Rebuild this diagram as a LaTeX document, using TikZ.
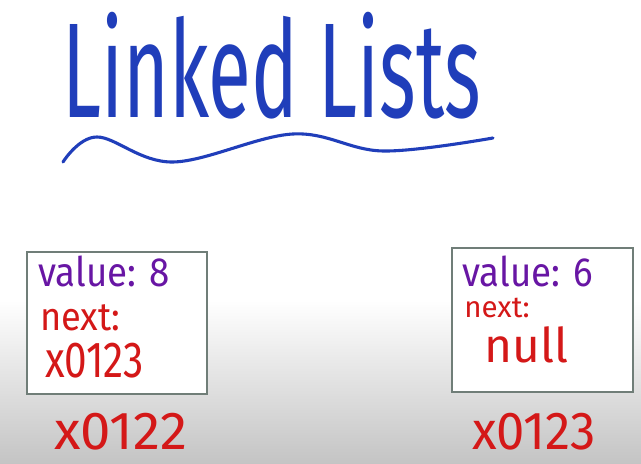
\documentclass[tikz,border=0pt]{standalone}
\usepackage{fontspec}
\setmainfont{Fira Sans}
\usepackage{graphicx}
\usepackage{xcolor}
\usetikzlibrary{positioning,calc}

\definecolor{inkblue}{RGB}{32,62,186}
\definecolor{inkred}{RGB}{212,24,24}
\definecolor{inkpurple}{RGB}{104,22,164}
\definecolor{boxgray}{RGB}{112,126,120}
\definecolor{floorgray}{RGB}{196,196,196}

\begin{document}
\begin{tikzpicture}[x=0.025cm,y=0.025cm,
cell/.style={draw=boxgray,line width=1.8pt,fill=white,rectangle,inner sep=0pt},
val/.style={inkpurple,inner sep=0pt,anchor=base west,font=\fontsize{29}{31}\selectfont},
ptr/.style={inkred,inner sep=0pt,anchor=base west,font=\fontsize{28}{30}\selectfont},
addr/.style={inkred,inner sep=0pt,anchor=base west,font=\fontsize{38}{40}\selectfont}]

% page and floor shading
\useasboundingbox (0,0) rectangle (641,-464);
\fill[white] (0,0) rectangle (641,-300);
\shade[top color=white,bottom color=floorgray] (0,-300) rectangle (641,-464);

% title
\node[inkblue,inner sep=0pt,anchor=base west,font=\fontsize{96}{100}\selectfont]
  (title) at (62,-118) {\scalebox{0.58}[1]{Linked Lists}};
\draw[inkblue,line width=2.2pt,line cap=round] plot[smooth,tension=0.6] coordinates
  {(63,-162) (97,-137) (173,-162) (293,-134) (383,-151) (493,-138)};

% first node
\node[cell,minimum width=4.5cm,minimum height=3.55cm] (n1) at (117,-323) {};
\node[val] (v1) at (38,-287) {\scalebox{0.9}[1]{value: 8}};
\node[ptr] (p1) at (40,-331) {\scalebox{0.92}[1]{next:}};
\node[ptr,font=\fontsize{36}{38}\selectfont] (a1) at (45,-378) {\scalebox{0.8}[1]{x0123}};
\node[addr] (m1) at (54,-450) {\scalebox{1.02}[1]{x0122}};

% second node
\node[cell,minimum width=4.525cm,minimum height=3.6cm] (n2) at (542.5,-320) {};
\node[val] (v2) at (462,-287) {\scalebox{0.9}[1]{value: 6}};
\node[ptr,font=\fontsize{21}{23}\selectfont] (p2) at (464,-318) {next:};
\node[ptr,font=\fontsize{34}{36}\selectfont] (a2) at (484,-363) {null};
\node[addr] (m2) at (472,-450) {\scalebox{0.95}[1]{x0123}};
\end{tikzpicture}
\end{document}
